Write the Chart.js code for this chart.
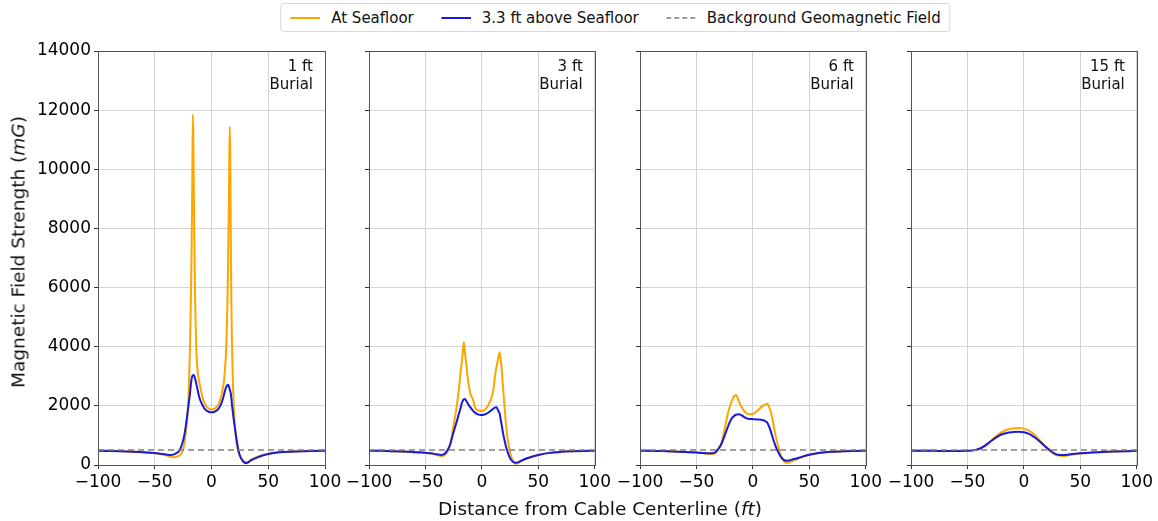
<!DOCTYPE html>
<html>
<head>
<meta charset="utf-8">
<script src="https://cdn.jsdelivr.net/npm/chart.js@4.4.1/dist/chart.umd.min.js"></script>
<style>
  html, body { margin:0; padding:0; background:#fff; }
  body { width:1158px; height:521px; overflow:hidden; position:relative; font-family:"DejaVu Sans", sans-serif; color:#111; }
  canvas { position:absolute; top:0; }
  #legend { position:absolute; left:615px; top:3px; transform:translateX(-50%); height:29px; box-sizing:border-box;
            border:1px solid #d9d9d9; border-radius:3px; background:#fff; display:flex; align-items:center;
            padding:0 8px 0 9px; font-size:15px; white-space:nowrap; z-index:5; }
  #legend .item { display:flex; align-items:center; }
  #legend .item + .item { margin-left:27px; }
  #legend svg { margin-right:11px; }
  #xtitle { position:absolute; left:600px; top:508px; transform:translate(-50%,-50%); font-size:18.5px; white-space:nowrap; z-index:5; }
  #ytitle { position:absolute; left:18px; top:252px; transform:translate(-50%,-50%) rotate(-90deg); font-size:18.5px; white-space:nowrap; z-index:5; }
</style>
</head>
<body>
<canvas id="c0" width="370" height="521" style="left:0px;width:370px;height:521px"></canvas>
<canvas id="c1" width="285" height="521" style="left:329px;width:285px;height:521px"></canvas>
<canvas id="c2" width="285" height="521" style="left:600px;width:285px;height:521px"></canvas>
<canvas id="c3" width="285" height="521" style="left:871px;width:285px;height:521px"></canvas>

<div id="legend">
  <div class="item"><svg width="30" height="10"><line x1="0" y1="5" x2="30" y2="5" stroke="#FFA500" stroke-width="2"/></svg><span>At Seafloor</span></div>
  <div class="item"><svg width="30" height="10"><line x1="0" y1="5" x2="30" y2="5" stroke="#1a1ad8" stroke-width="2"/></svg><span>3.3 ft above Seafloor</span></div>
  <div class="item"><svg width="30" height="10"><line x1="0" y1="5" x2="30" y2="5" stroke="#808080" stroke-width="1.5" stroke-dasharray="5,3"/></svg><span>Background Geomagnetic Field</span></div>
</div>
<div id="xtitle">Distance from Cable Centerline (<i>ft</i>)</div>
<div id="ytitle">Magnetic Field Strength (<i>mG</i>)</div>

<script>
// ---------- tick values / labels ----------
const xTickValues = [-100, -50, 0, 50, 100];
const xTickLabels = ['\u2212100', '\u221250', '0', '50', '100'];
const yTickValues = [0, 2000, 4000, 6000, 8000, 10000, 12000, 14000];
const yTickLabels = ['0', '2000', '4000', '6000', '8000', '10000', '12000', '14000'];

// ---------- panel labels ----------
const burialDepths = ['1 ft', '3 ft', '6 ft', '15 ft'];
const burialWord = 'Burial';

// ---------- background field ----------
const backgroundField = 510;

// ---------- 1 ft burial ----------
const distance1ft = [-100,-90,-80,-70,-60,-50,-45,-40,-36,-33,-30,-28,-26,-24,-23,-22,-21,-20,-19,-18.5,-18,-17.5,-17,-16.4,-16,-15.5,-15,-14.5,-14,-13.5,-13,-12,-11,-10,-8,-6,-4,-2,0,2,4,6,8,10,11,12,13,13.5,14,14.5,15,15.5,16.1,16.5,17,17.5,18,18.5,19,20,21,22,24,26,28,30,32,34,37,40,45,50,60,70,80,90,100];
const seafloor1ft = [485,478,468,455,432,400,375,330,275,265,290,330,420,700,1000,1300,1750,2600,3900,4900,6000,7400,9300,11850,11000,9000,7200,5800,4800,4100,3600,3100,2850,2650,2300,2080,1960,1900,1880,1895,1950,2050,2250,2600,2850,3300,4000,4600,5400,6500,7900,9600,11450,10500,7800,5500,4200,3300,2600,1700,1150,750,400,230,150,105,100,150,220,275,335,378,428,453,467,475,481];
const above1ft = [480,474,465,452,432,402,378,355,338,360,420,500,700,1000,1230,1500,1800,2100,2400,2600,2780,2920,3000,3040,3045,3030,2990,2930,2850,2760,2680,2500,2330,2200,2030,1900,1830,1790,1780,1790,1830,1900,2020,2230,2380,2530,2640,2680,2705,2710,2690,2640,2560,2500,2420,2250,2050,1880,1720,1420,1150,880,450,230,110,60,80,140,200,250,320,375,430,452,466,475,482];

// ---------- 3 ft burial ----------
const distance3ft = [-100,-90,-80,-70,-60,-50,-45,-40,-36,-33,-30,-28,-26,-24,-22,-20,-19,-18,-17,-16,-15,-14,-13,-12,-10,-8,-6,-4,-2,0,2,4,6,8,10,11,12,13,14,15,15.7,16.5,17.5,18.5,19.5,20.5,22,24,26,28,30,32,35,40,45,50,60,70,80,90,100];
const seafloor3ft = [485,478,468,455,435,410,390,340,300,330,480,720,1120,1580,2070,2700,3080,3420,3800,4150,3800,3470,3100,2800,2380,2230,1930,1860,1835,1830,1850,1920,2050,2230,2500,2800,3120,3330,3520,3700,3810,3600,3250,2750,2250,1750,1120,600,280,110,40,60,140,230,290,340,410,445,463,474,480];
const above3ft = [485,478,468,455,435,412,395,360,340,380,530,700,990,1250,1510,1780,1910,2060,2170,2225,2235,2180,2110,2050,1940,1840,1770,1720,1695,1690,1705,1730,1780,1840,1900,1930,1950,1955,1880,1800,1740,1570,1360,1130,930,760,530,310,170,100,78,90,150,228,290,338,410,445,463,474,480];

// ---------- 6 ft burial ----------
const distance6ft = [-100,-90,-80,-70,-60,-50,-45,-40,-36,-33,-30,-28,-26,-24,-22,-20,-18,-16,-15,-14,-12,-10,-8,-6,-4,-2,0,2,4,6,8,10,12,13,14,16,18,20,22,24,26,28,30,32,35,40,45,50,60,70,80,90,100];
const seafloor6ft = [485,478,470,458,440,420,402,378,368,410,560,730,1040,1400,1770,2030,2230,2350,2370,2310,2120,1960,1840,1760,1720,1715,1730,1780,1840,1910,1975,2030,2062,2060,2000,1780,1420,1010,690,400,210,110,75,80,140,210,285,345,415,448,465,474,480];
const above6ft = [485,478,470,458,440,420,408,395,400,440,580,700,890,1100,1310,1490,1610,1680,1700,1710,1712,1680,1630,1585,1565,1555,1550,1545,1540,1535,1525,1505,1460,1410,1330,1120,870,650,470,320,220,160,145,155,185,235,300,345,415,448,465,474,480];

// ---------- 15 ft burial ----------
const distance15ft = [-100,-90,-80,-70,-60,-50,-45,-40,-35,-30,-25,-20,-15,-10,-5,0,5,10,15,20,25,30,35,40,45,50,60,70,80,90,100];
const seafloor15ft = [482,480,478,476,474,474,490,535,640,790,960,1100,1190,1235,1252,1230,1150,1000,800,590,410,318,305,335,362,385,415,438,455,467,477];
const above15ft = [482,480,478,476,476,478,495,540,640,780,920,1030,1085,1110,1125,1110,1045,920,760,590,440,350,338,358,378,395,420,440,455,468,478];

// ---------- styling ----------
const ORANGE = '#FFA500';
const BLUE = '#1a1ad8';
const GREY = '#808080';
const GRID = '#d4d4d4';
const FONT = '"DejaVu Sans", sans-serif';

const panels = [
  { id:'c0', yAxisWidth:98, width:370, xs:distance1ft, sea:seafloor1ft, above:above1ft, depth:burialDepths[0], showY:true },
  { id:'c1', yAxisWidth:40, width:285, xs:distance3ft, sea:seafloor3ft, above:above3ft, depth:burialDepths[1], showY:false },
  { id:'c2', yAxisWidth:40, width:285, xs:distance6ft, sea:seafloor6ft, above:above6ft, depth:burialDepths[2], showY:false },
  { id:'c3', yAxisWidth:40, width:285, xs:distance15ft, sea:seafloor15ft, above:above15ft, depth:burialDepths[3], showY:false }
];
const PLOT_W = 227, PLOT_TOP = 51, X_AXIS_H = 56;

const framePlugin = {
  id: 'frameAndLabel',
  afterDatasetsDraw(chart, args, opts) {
    const { ctx, chartArea: a } = chart;
    ctx.save();
    ctx.strokeStyle = '#555';
    ctx.lineWidth = 1;
    ctx.strokeRect(Math.round(a.left) + 0.5, Math.round(a.top) + 0.5, Math.round(a.right - a.left), Math.round(a.bottom - a.top));
    ctx.fillStyle = '#111';
    ctx.font = '15px ' + FONT;
    ctx.textAlign = 'right';
    ctx.textBaseline = 'middle';
    ctx.fillText(opts.depth, a.right - 12, a.top + 16);
    ctx.fillText(burialWord, a.right - 12, a.top + 34);
    ctx.restore();
  }
};

panels.forEach(p => {
  const rightPad = p.width - p.yAxisWidth - PLOT_W;
  new Chart(document.getElementById(p.id), {
    type: 'line',
    data: {
      datasets: [
        { label:'Background Geomagnetic Field', data:[{x:-100,y:backgroundField},{x:100,y:backgroundField}],
          borderColor:GREY, borderWidth:1.5, borderDash:[6,4], pointRadius:0, order:0 },
        { label:'3.3 ft above Seafloor', data:p.xs.map((x,i)=>({x:x, y:p.above[i]})),
          borderColor:BLUE, borderWidth:2, pointRadius:0, cubicInterpolationMode:'monotone', order:1 },
        { label:'At Seafloor', data:p.xs.map((x,i)=>({x:x, y:p.sea[i]})),
          borderColor:ORANGE, borderWidth:2, pointRadius:0, cubicInterpolationMode:'monotone', order:2 }
      ]
    },
    options: {
      responsive:false, animation:false, devicePixelRatio:1,
      layout:{ padding:{ top:PLOT_TOP, right:rightPad, bottom:0, left:0 } },
      plugins:{ legend:{display:false}, tooltip:{enabled:false}, frameAndLabel:{ depth:p.depth } },
      scales:{
        x:{
          type:'linear', min:-100, max:100,
          afterBuildTicks: s => { s.ticks = xTickValues.map(v => ({value:v})); },
          afterFit: s => { s.height = X_AXIS_H; },
          grid:{ color:GRID, lineWidth:1, tickColor:'#333', tickLength:4, drawTicks:true },
          border:{ display:false },
          ticks:{ color:'#000', font:{ family:FONT, size:17 }, padding:3, maxRotation:0, autoSkip:false,
                  callback:(v, i) => xTickLabels[i] }
        },
        y:{
          type:'linear', min:0, max:14000,
          afterBuildTicks: s => { s.ticks = yTickValues.map(v => ({value:v})); },
          afterFit: s => { s.width = p.yAxisWidth; },
          grid:{ color:GRID, lineWidth:1, tickColor:'#333', tickLength:4, drawTicks:true },
          border:{ display:false },
          ticks:{ color:'#000', font:{ family:FONT, size:17 }, padding:3, autoSkip:false,
                  callback:(v, i) => p.showY ? yTickLabels[i] : '' }
        }
      }
    },
    plugins:[framePlugin]
  });
});
</script>
</body>
</html>
